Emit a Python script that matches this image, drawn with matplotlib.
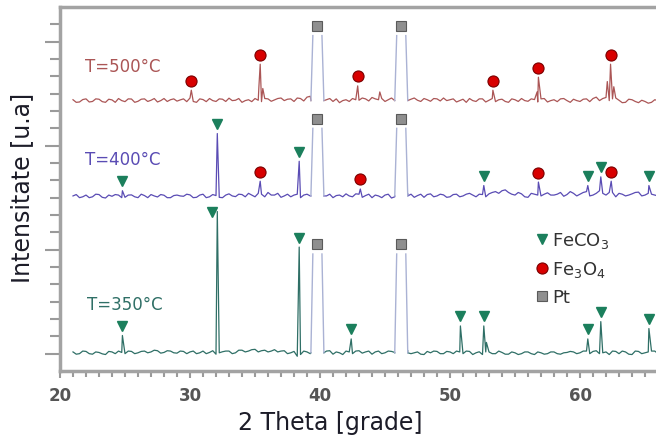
import matplotlib
matplotlib.use("Agg")
import matplotlib.pyplot as plt
from matplotlib.lines import Line2D
import numpy as np

# background sampled every 0.5 deg, plus the points in between
x_grid = np.arange(21.0, 66.01, 0.5)
x_mid = np.arange(21.25, 65.76, 0.5)

base_500 = 15.6
base_400 = 10.1
base_350 = 1.05

noise_500 = [0.05, -0.08, 0.1, -0.05, 0.08, -0.1, 0.04, 0.12, -0.06, 0.09, -0.04, 0.1, 0.02, -0.08, 0.12, 0.05, -0.03, 0.1,
             0.15, -0.1, 0.06, 0.12, -0.05, 0.08, 0.14, 0.02, -0.1, 0.05, 0.12, -0.06, 0.1, 0.04, 0.15, 0.08, -0.05, 0.12, 0.2, 0.1,
             0.1, 0.05, -0.05, -0.12, 0.05, 0.12, 0.02, 0.1, 0.18, 0.05, -0.05, 0.15, 0.1, 0.2, 0.08, 0.02, 0.12, -0.04, 0.1, 0.15,
             0.05, -0.08, 0.08, 0.12, -0.05, 0.1, 0.02, -0.06, 0.08, -0.1, 0.05, 0.12, -0.04, 0.06, 0.1, -0.08, 0.05, 0.1, 0.0, 0.08,
             -0.05, 0.1, 0.12, 0.0, 0.18, 0.1, 0.02, -0.1, 0.05, -0.12, -0.05, -0.1, 0.0]
mid_500 = [-0.1, 0.06, -0.08, 0.1, -0.06, 0.08, -0.1, 0.0, 0.1, -0.1, 0.08, -0.05, 0.12, 0.0, -0.05, 0.1, 0.04, -0.06,
           -0.05, 0.1, -0.06, 0.0, 0.1, -0.05, 0.0, 0.12, 0.0, -0.06, 0.02, 0.12, -0.04, 0.12, 0.0, 0.1, 0.15, -0.02, 0.25, 0.1,
           -0.08, 0.12, 0.1, 0.0, -0.05, 0.05, 0.15, -0.02, 0.1, 0.12, 0.05, 0.0, 0.25, 0.02, 0.15, -0.05, 0.05, 0.12, -0.02, 0.0,
           0.1, 0.0, -0.1, 0.0, 0.1, -0.08, 0.12, 0.05, -0.05, 0.1, -0.05, 0.0, 0.1, -0.08, 0.12, 0.0, -0.06, 0.12, -0.1, 0.0,
           0.08, -0.06, 0.2, 0.12, 0.0, 0.15, -0.12, 0.08, -0.05, 0.02, -0.15, 0.05]
noise_400 = [0.0, -0.1, 0.05, -0.05, 0.08, -0.12, -0.02, 0.05, -0.08, 0.06, -0.1, 0.02, 0.08, -0.06, 0.04, -0.1, 0.05, -0.02,
             0.06, -0.08, 0.1, -0.05, 0.02, -0.1, 0.12, -0.04, 0.08, 0.15, -0.05, 0.1, 0.2, 0.05, -0.08, 0.1, 0.05, -0.1, 0.1, 0.2,
             0.1, 0.0, -0.1, 0.05, 0.12, -0.05, 0.1, 0.02, -0.1, 0.0, 0.05, -0.12, 0.08, -0.05, 0.1, 0.02, -0.08, 0.12, 0.0, 0.06,
             -0.05, 0.1, 0.0, 0.15, -0.05, 0.08, 0.12, 0.25, 0.3, 0.2, 0.05, 0.12, -0.08, 0.1, 0.0, 0.18, 0.05, 0.2, 0.08, 0.15,
             0.1, 0.25, 0.05, 0.3, 0.05, 0.2, 0.15, 0.0, 0.12, 0.22, 0.05, 0.1, 0.0]
mid_400 = [0.08, -0.05, -0.1, 0.1, -0.08, 0.05, 0.08, -0.1, 0.05, -0.05, 0.1, -0.1, 0.0, 0.08, -0.1, 0.02, 0.0, 0.1,
           -0.1, 0.05, -0.1, 0.08, -0.08, 0.05, 0.0, 0.1, -0.05, 0.05, 0.15, -0.05, 0.05, 0.15, 0.0, -0.05, 0.1, 0.05, 0.0, 0.1,
           -0.1, 0.1, 0.02, -0.05, 0.0, 0.12, -0.08, 0.1, 0.05, -0.1, 0.1, -0.05, 0.0, 0.12, -0.08, 0.1, 0.08, -0.05, 0.1, -0.08,
           0.08, -0.05, 0.1, 0.05, 0.1, -0.05, 0.2, 0.15, 0.35, 0.1, 0.2, -0.05, 0.15, 0.05, 0.1, 0.05, 0.1, -0.02, 0.25, 0.0,
           0.2, 0.0, 0.15, 0.15, 0.2, -0.05, 0.1, 0.05, 0.2, 0.0, 0.15, 0.05]
noise_350 = [0.05, -0.05, 0.08, -0.08, 0.02, -0.1, 0.05, 0.1, -0.05, 0.08, 0.0, 0.1, 0.05, 0.12, 0.02, 0.1, -0.02, 0.08,
             0.05, -0.05, 0.1, 0.02, -0.08, 0.06, 0.1, 0.0, 0.15, 0.1, 0.2, 0.12, 0.05, 0.18, 0.1, -0.05, 0.08, -0.1, 0.05, 0.1,
             0.05, 0.1, -0.08, 0.0, 0.1, -0.05, 0.12, 0.05, -0.08, 0.1, 0.0, 0.08, 0.15, 0.05, -0.05, 0.05, -0.1, 0.0, 0.08, -0.05,
             0.05, 0.1, -0.05, 0.08, 0.0, -0.1, 0.05, -0.05, 0.02, -0.08, 0.0, -0.05, 0.05, -0.1, 0.0, -0.05, 0.05, -0.08, 0.02, 0.05,
             0.0, 0.1, 0.08, -0.05, 0.05, 0.1, -0.05, 0.05, -0.1, 0.08, 0.0, 0.1, -0.05]
mid_350 = [-0.08, 0.1, -0.05, 0.05, -0.06, 0.08, -0.05, 0.02, 0.1, -0.05, 0.08, 0.0, 0.15, -0.02, 0.12, 0.0, 0.1, -0.05,
           0.1, 0.0, -0.05, 0.12, 0.0, 0.1, -0.05, 0.15, 0.05, 0.18, 0.05, 0.15, 0.1, 0.05, 0.12, 0.0, -0.2, 0.1, -0.05, 0.1,
           -0.1, 0.12, 0.05, -0.1, 0.05, 0.1, -0.02, 0.1, 0.05, -0.05, 0.1, 0.02, 0.0, 0.12, 0.0, -0.08, 0.08, 0.1, -0.05, 0.08,
           -0.05, 0.05, 0.1, -0.1, 0.06, 0.05, -0.05, 0.1, -0.08, 0.05, -0.1, 0.05, -0.05, 0.05, -0.08, 0.05, -0.05, 0.0, 0.08, -0.05,
           0.1, -0.05, 0.12, 0.0, -0.1, 0.08, 0.1, -0.08, 0.1, -0.05, 0.05, 0.1]

# peaks: position, height above background, phase (None = shoulder, no marker)
peaks_500 = [(30.1, 0.6, "Fe3O4"), (35.3, 0.8, None), (35.4, 2.1, "Fe3O4"), (35.6, 0.7, None),
             (42.9, 0.85, "Fe3O4"), (44.6, 0.5, None), (53.3, 0.6, "Fe3O4"), (56.7, 0.5, None),
             (56.8, 1.35, "Fe3O4"), (62.1, 1.1, None), (62.35, 2.1, "Fe3O4"), (62.6, 0.8, None)]
peaks_400 = [(24.8, 0.3, "FeCO3"), (32.1, 3.6, "FeCO3"), (35.4, 0.85, "Fe3O4"), (38.4, 2.0, "FeCO3"),
             (43.1, 0.4, "Fe3O4"), (52.6, 0.6, "FeCO3"), (56.8, 0.8, "Fe3O4"), (60.6, 0.6, "FeCO3"),
             (61.6, 1.1, "FeCO3"), (62.4, 0.85, "Fe3O4"), (65.3, 0.6, "FeCO3")]
peaks_350 = [(24.8, 1.0, "FeCO3"), (32.1, 8.15, "FeCO3"), (38.4, 6.1, "FeCO3"), (42.4, 0.8, "FeCO3"),
             (50.8, 1.55, "FeCO3"), (52.6, 1.55, "FeCO3"), (52.8, 0.6, None), (60.6, 0.8, "FeCO3"),
             (61.6, 1.8, "FeCO3"), (65.3, 1.4, "FeCO3")]

pt_pos = [39.8, 46.25]
pt_top_500 = 19.35
pt_top_400 = 14.0
pt_top_350 = 6.75

trace_colors = ["#ab5656", "#5a4cb4", "#2f6f66"]
labels = ["T=500°C", "T=400°C", "T=350°C"]

marker_style = {
    "FeCO3": dict(marker="v", ms=7, color="#1b7f5c", mec="#1b7f5c"),
    "Fe3O4": dict(marker="o", ms=8, color="#d80000", mec="#7a0000", mew=0.8),
    "Pt": dict(marker="s", ms=7, color="#8f8f8f", mec="#5a5a5a", mew=0.8),
}

fig = plt.figure(figsize=(6.56, 4.39), dpi=100)
ax = fig.add_axes([60 / 656, 67 / 439, 650 / 656, 364 / 439])


def draw_trace(base, noise, mid, peaks, pt_top, color, nudge=None):
    xs, ys = [], []
    for x, n in list(zip(x_grid, noise)) + list(zip(x_mid, mid)):
        if min(abs(x - p) for p in pt_pos) < 0.5:
            continue
        xs.append(x)
        ys.append(base + n)
    for x, h, ph in peaks:
        xs.append(x)
        ys.append(base + h)
    for p in pt_pos:
        xs += [p - 0.5, p, p + 0.5]
        ys += [base, np.nan, base]
    order = np.argsort(xs, kind="stable")
    xs = np.array(xs)[order]
    ys = np.array(ys)[order]
    ax.plot(xs, ys, color=color, lw=0.9, zorder=2)
    # Pt reflections
    for p in pt_pos:
        ax.plot([p - 0.5, p - 0.35], [base, pt_top], color="#aab2d4", lw=1.0, zorder=2)
        ax.plot([p + 0.35, p + 0.5], [pt_top, base], color="#aab2d4", lw=1.0, zorder=2)
        ax.plot(p, pt_top + 0.55, ls="none", zorder=4, **marker_style["Pt"])
    for x, h, ph in peaks:
        if ph is None:
            continue
        mx, my = x, base + h + 0.55
        if nudge and x in nudge:
            mx += nudge[x][0]
            my += nudge[x][1]
        ax.plot(mx, my, ls="none", zorder=4, **marker_style[ph])


draw_trace(base_500, noise_500, mid_500, peaks_500, pt_top_500, trace_colors[0])
draw_trace(base_400, noise_400, mid_400, peaks_400, pt_top_400, trace_colors[1])
draw_trace(base_350, noise_350, mid_350, peaks_350, pt_top_350, trace_colors[2], nudge={32.1: (-0.4, -0.55)})

ax.text(21.9, 17.57, labels[0], color=trace_colors[0], fontsize=12, va="center")
ax.text(21.9, 12.25, labels[1], color=trace_colors[1], fontsize=12, va="center")
ax.text(22.1, 3.87, labels[2], color=trace_colors[2], fontsize=12, va="center")

ax.set_xlim(20, 70)
ax.set_ylim(0, 21)
ax.set_xticks(np.arange(20, 61, 10))
ax.set_xticks(np.arange(20, 70, 1), minor=True)
ax.set_yticks([1, 7, 13, 19])
ax.set_yticks(np.arange(1, 21, 1), minor=True)
ax.set_yticklabels([])
for lab in ax.get_xticklabels():
    lab.set_fontweight("bold")
ax.tick_params(axis="x", which="major", length=5, width=1.5, color="#9a9a9a",
               labelsize=12, labelcolor="#555555", pad=6)
ax.tick_params(axis="x", which="minor", length=4, width=1.5, color="#9a9a9a")
ax.tick_params(axis="y", which="major", length=11, width=1.5, color="#9a9a9a")
ax.tick_params(axis="y", which="minor", length=7, width=1.5, color="#9a9a9a")
for side in ["left", "bottom", "top"]:
    ax.spines[side].set_color("#a3a3a3")
    ax.spines[side].set_linewidth(2.5)
ax.spines["right"].set_visible(False)

ax.set_xlabel("2 Theta [grade]", fontsize=17, color="#1c1c28")
ax.set_ylabel("Intensitate [u.a]", fontsize=17, color="#1c1c28")
ax.xaxis.set_label_coords(0.416, -0.106)
ax.yaxis.set_label_coords(-0.04, 0.507)

handles = [Line2D([], [], ls="none", **marker_style["FeCO3"]),
           Line2D([], [], ls="none", **marker_style["Fe3O4"]),
           Line2D([], [], ls="none", **marker_style["Pt"])]
fig.legend(handles, ["FeCO$_3$", "Fe$_3$O$_4$", "Pt"], loc="upper left",
           bbox_to_anchor=(520 / 656, 1 - 215 / 439), frameon=False, fontsize=13,
           handlelength=0.6, handletextpad=0.3, labelspacing=0.5, labelcolor="#333333")

fig.savefig("out.png", dpi=100)
